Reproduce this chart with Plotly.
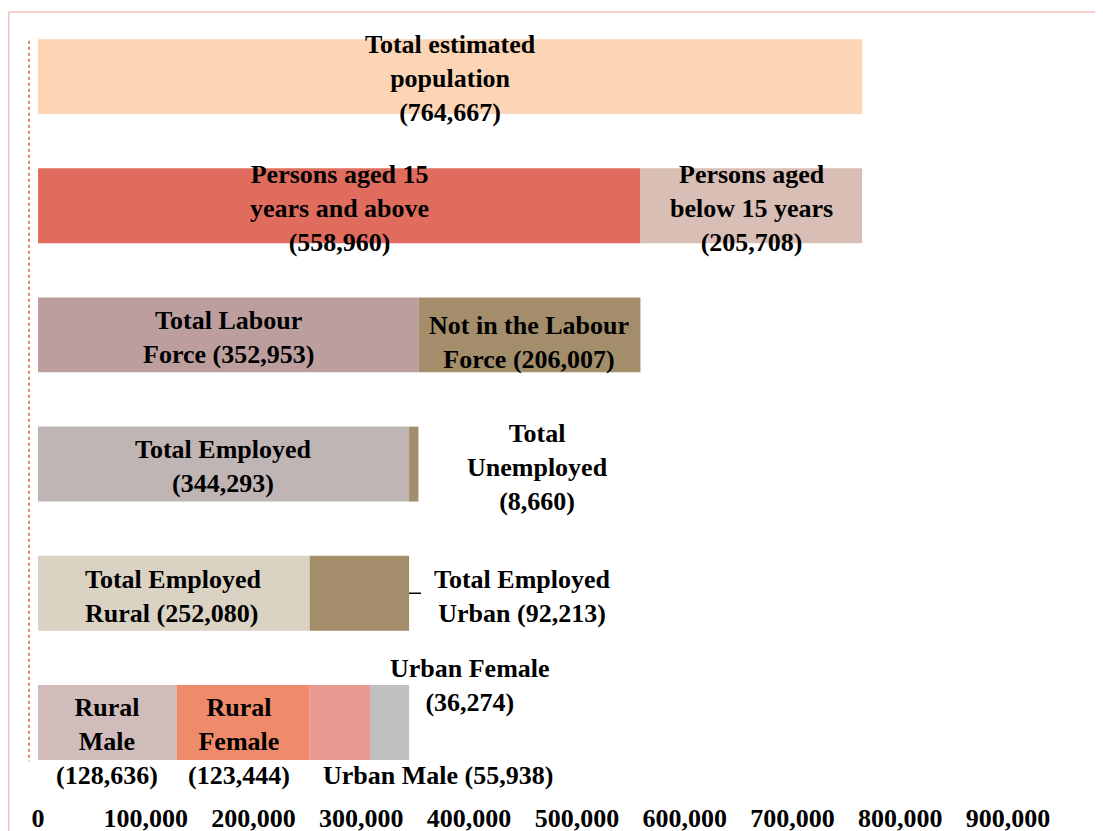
import plotly.graph_objects as go

# data of the chart
segment_names = [
    "Total estimated<br>population<br>(764,667)",
    "Persons aged 15<br>years and above<br>(558,960)",
    "Persons aged<br>below 15 years<br>(205,708)",
    "Total Labour<br>Force (352,953)",
    "Not in the Labour<br>Force (206,007)",
    "Total Employed<br>(344,293)",
    "Total<br>Unemployed<br>(8,660)",
    "Total Employed<br>Rural (252,080)",
    "Total Employed<br>Urban (92,213)",
    "Rural<br>Male<br>(128,636)",
    "Rural<br>Female<br>(123,444)",
    "Urban Male (55,938)",
    "Urban Female<br>(36,274)",
]
segment_values = [764667, 558960, 205708, 352953, 206007, 344293, 8660,
                  252080, 92213, 128636, 123444, 55938, 36274]
segment_rows = [0, 1, 1, 2, 2, 3, 3, 4, 4, 5, 5, 5, 5]
tick_values = [0, 100000, 200000, 300000, 400000, 500000, 600000, 700000, 800000, 900000]

# styles
colors = ["#FBD5B5", "#E06C5E", "#D8BEB4", "#BC9E9E", "#A38D6A", "#BFB5B5", "#A38D6A",
          "#DAD3C3", "#A38D6A", "#D1BCBC", "#EF8A6A", "#E89A92", "#C0C0C0"]
# label shift from the segment centre, in pixels
label_shift = [(0, -2), (0, -3), (0, -3), (0, -3), (0, -8), (0, -2), (124, -3),
               (0, -3), (163, -3), (0, -19), (-4, -19), (98, -53), (80, 37)]
label_align = ["center"] * 13
label_align[7] = "left"

fonte = "Liberation Serif, Times New Roman, serif"
tam = 26

fig = go.Figure()
bases = {}
annotations = []
for i in range(len(segment_values)):
    r = segment_rows[i]
    base = bases.get(r, 0)
    fig.add_trace(go.Bar(
        y=[r], x=[segment_values[i]], base=[base], orientation="h",
        marker=dict(color=colors[i], line=dict(width=0)),
        width=0.58, showlegend=False, hoverinfo="x",
    ))
    annotations.append(dict(
        x=base + segment_values[i] / 2, y=r, xref="x", yref="y",
        text=segment_names[i], showarrow=False, align=label_align[i],
        xshift=label_shift[i][0], yshift=label_shift[i][1],
        font=dict(family=fonte, size=tam, color="black", weight="bold"),
    ))
    bases[r] = base + segment_values[i]

# pequena linha guia do Urban employed
fig.add_shape(type="line", xref="x", yref="y",
              x0=bases[4], x1=bases[4] + 11000,
              y0=4, y1=4, line=dict(color="black", width=1.5))

# moldura rosa
fig.add_shape(type="line", xref="paper", yref="paper", x0=-0.0207, x1=1.2, y0=1, y1=1,
              line=dict(color="#F0C4BC", width=1.5))
fig.add_shape(type="line", xref="paper", yref="paper", x0=-0.0207, x1=-0.0207, y0=1, y1=-0.2,
              line=dict(color="#F0C4BC", width=1.5))
# eixo pontilhado
fig.add_shape(type="line", xref="paper", yref="paper", x0=0, x1=0, y0=0.963, y1=0.033,
              line=dict(color="#E0603A", width=1.5, dash="dot"))

fig.update_layout(
    width=1103, height=831,
    margin=dict(l=21, r=103, t=4, b=52),
    barmode="overlay",
    paper_bgcolor="white", plot_bgcolor="white",
    annotations=annotations,
    xaxis=dict(range=[-8352, 900000], tickvals=tick_values, tickformat=",d",
               showgrid=False, zeroline=False, showline=False, ticks="",
               ticklabelstandoff=13,
               tickfont=dict(family=fonte, size=tam, color="black", weight="bold")),
    yaxis=dict(range=[5.5, -0.5], showticklabels=False, showgrid=False,
               zeroline=False, showline=False, ticks=""),
)

fig.write_html("out.html")
